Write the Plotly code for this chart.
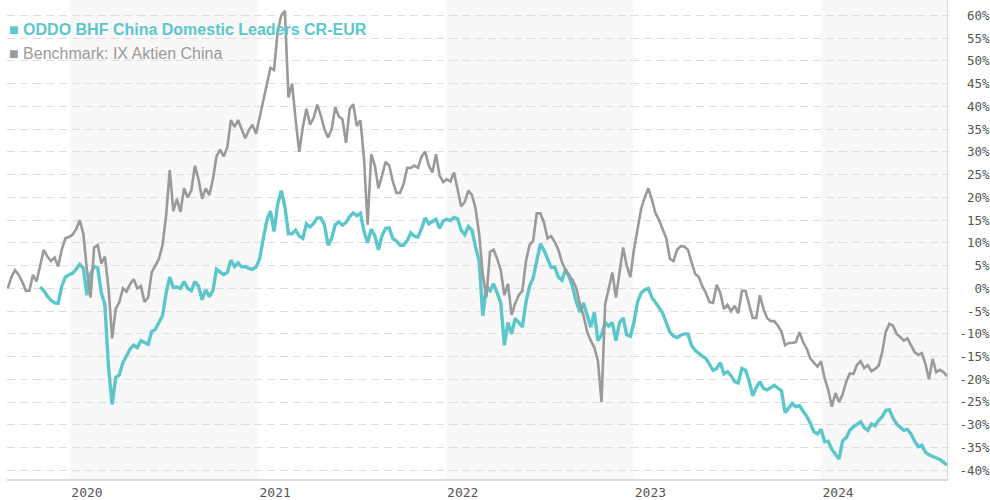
import pandas as pd
import plotly.graph_objects as go

# Weekly observations, cumulative performance in percent
dates = pd.date_range("2019-09-02", periods=262, freq="7D")

fund_name = "ODDO BHF China Domestic Leaders CR-EUR"
bench_name = "Benchmark: IX Aktien China"

benchmark = [
    0, 2.5, 4, 3, 1.5, -0.5, -0.5, 3, 1.5, 5,
    8.5, 7, 6, 6.8, 4.8, 8.5, 11, 11.3, 11.8, 13,
    15, 12, 4, -2, 9, 9.5, 5.5, 7, 0, -11,
    -4.5, -3, 0, -0.7, 1, 2, 0, 0.5, -3, -2,
    3.5, 5, 6.5, 9.5, 16, 26, 17, 19.7, 16.8, 22,
    20, 21.5, 27, 24, 19.7, 22, 20.5, 24, 29, 30.5,
    29, 31, 37, 35.5, 37, 35, 33, 34.8, 36, 34,
    37.5, 41.5, 45, 48.5, 48, 56.5, 60, 61, 42, 45,
    37, 30, 35.5, 39.5, 36, 37.5, 40.4, 38, 35, 33.2,
    35, 39.8, 37.8, 37.2, 32, 39.4, 40.5, 35.7, 37, 28.5,
    14, 29.5, 27, 22, 24.8, 27.8, 27, 23.5, 21, 21,
    23, 26.5, 26.5, 27, 26.5, 29, 30, 27, 25.5, 29.5,
    24.8, 23.4, 24, 23.5, 25.5, 22, 18, 19, 21.5, 20.5,
    17.5, 12, 3, -2, 8, 8.5, 6.5, 4, -1.5, 1,
    -5.8, -3.3, -1.5, -0.5, 6, 9.5, 10.5, 16.5, 16.5, 14.5,
    11, 11.5, 10.2, 8.5, 5.8, 4, 2.8, 1.8, 0, -3.5,
    -6, -9.5, -11.5, -13, -16, -25, -3.5, 0, 3.5, -2,
    4, 9, 5, 2.5, 8.5, 13.5, 17.5, 20, 22, 19.5,
    16.5, 15, 13, 11, 6.5, 6, 8.5, 9.3, 9.2, 8.5,
    5.8, 3.2, 2.5, 0.5, -1, -3, -3.2, 0.8, -1, -4.5,
    -3.6, -5, -3.8, -5.5, -0.5, -0.5, -3.5, -6.5, -6.5, -1.5,
    -4.5, -6.5, -7.2, -7.2, -8.2, -9.5, -12.5, -12, -12, -11.8,
    -9.6, -11.8, -13.2, -15.4, -16.3, -17.2, -16, -19.8, -22.3, -26,
    -23, -25, -23.3, -20.5, -18.7, -18.8, -16.8, -16, -17.5, -16.9,
    -18.2, -17.7, -17, -14, -9.5, -7.8, -8.2, -10, -10.7, -11.5,
    -11, -12.4, -14, -14.6, -14.2, -16.6, -20, -15.5, -18.4, -17.9,
    -18.4, -19.3,
]

fund = [
    None, None, None, None, None, None, None, None, None, 0.3,
    -0.5, -1.7, -2.6, -3.2, -3.3, 0.5, 2.5, 3, 3.3, 4.2,
    5.3, 4.5, -1.5, 3.2, 4.8, 4.5, -1, -3.6, -17.5, -25.5,
    -19.6, -19, -16.3, -14.8, -13.3, -12.5, -13, -11.5, -12, -12.3,
    -9.5, -9, -7.5, -6, -1, 2.5, 0.2, 0.3, 0, 1.5,
    0, -0.5, 1.5, 0.5, -2.5, -0.3, -1.8, -0.5, 4.2, 3.5,
    3, 3.5, 6.2, 4.8, 5.6, 4.7, 4.8, 4.4, 4.2, 4.7,
    6.5, 11, 15, 17, 12.5, 18.5, 21.5, 18, 12, 12,
    12.8, 11.5, 11, 14.2, 13.5, 14.3, 15.5, 15.5, 14, 9.5,
    11, 14, 14.6, 13.9, 14.5, 15.8, 16.6, 16, 16.5, 12.5,
    10, 13, 11.6, 8.5, 11.6, 13.2, 13.3, 11, 10.4, 9.5,
    9.5, 10.5, 12.2, 11.5, 11.3, 13.2, 15.5, 14.2, 14.8, 15.2,
    13.2, 14.8, 15.2, 14.9, 15.6, 15.3, 12.8, 11.8, 13.6, 12.8,
    9, 6, -6, 0.5, -0.5, 1, -1, -3.2, -12.5, -7.5,
    -10, -6.6, -7.5, -8.5, -3, 0.5, 2.3, 6, 9.8, 8.4,
    6.6, 4.6, 4.7, 2.5, 1.8, 4.2, 2.5, 0.2, -3, -5.2,
    -3.2, -5.6, -8.5, -5.3, -11.5, -10.2, -7.5, -8.3, -7.5, -11.5,
    -7.5, -6.5, -10.2, -10.5, -7.5, -3, -1, -0.3, 0, -2,
    -3, -4.2, -5.5, -7.5, -9.6, -10.5, -10.8, -10.3, -10, -10,
    -12.5, -13.6, -14.3, -14.9, -15.4, -16.8, -18, -17.6, -16.3, -18.8,
    -18.3, -19.2, -20.5, -20.8, -17.6, -18, -20.3, -23.6, -21.8, -20.5,
    -22, -22.3, -21.8, -21.3, -21.9, -22.5, -27.3, -26.3, -25.3, -26,
    -25.8, -27, -28.1, -29.6, -31.5, -32, -31, -33.7, -33.6, -35.4,
    -36.4, -37.5, -33.5, -32.8, -31.2, -30.4, -29.9, -29.3, -30.6, -31.2,
    -29.8, -30.2, -29, -28.2, -26.8, -26.7, -28.5, -29.8, -30.5, -31.2,
    -31, -32, -33.6, -34.8, -34.5, -36, -36.6, -36.9, -37.1, -37.6,
    -38.2, -38.9,
]

year_ticks = ["2020-01-01", "2021-01-01", "2022-01-01", "2023-01-01", "2024-01-01"]
year_labels = ["2020", "2021", "2022", "2023", "2024"]
shaded_years = [("2020-01-01", "2021-01-01"), ("2022-01-01", "2023-01-01"),
                ("2024-01-01", "2024-09-03")]

pct_ticks = list(range(-40, 61, 5))
pct_labels = [f"{v}%".rjust(4, "\u00a0") for v in pct_ticks]

TEAL = "#5cc6cd"
GREY = "#9a9a9a"

fig = go.Figure()
fig.add_trace(go.Scatter(x=dates, y=fund, mode="lines", name=fund_name,
                         line=dict(color=TEAL, width=3.4), hoverinfo="skip"))
fig.add_trace(go.Scatter(x=dates, y=benchmark, mode="lines", name=bench_name,
                         line=dict(color=GREY, width=2.6), hoverinfo="skip"))

for x0, x1 in shaded_years:
    fig.add_shape(type="rect", xref="x", yref="paper", x0=x0, x1=x1, y0=0, y1=1,
                  fillcolor="#f8f8f8", line=dict(width=0), layer="below")

fig.add_annotation(xref="paper", yref="paper", x=0.0, y=0.938, xanchor="left",
                   yanchor="middle", showarrow=False,
                   text=f"<b>\u25a0 {fund_name}</b>",
                   font=dict(family="Liberation Sans, Arial", size=16, color=TEAL))
fig.add_annotation(xref="paper", yref="paper", x=0.0, y=0.889, xanchor="left",
                   yanchor="middle", showarrow=False,
                   text=f"\u25a0 {bench_name}",
                   font=dict(family="Liberation Sans, Arial", size=16, color=GREY))

fig.update_layout(
    width=990, height=500,
    margin=dict(l=7, r=42, t=0, b=18),
    paper_bgcolor="white", plot_bgcolor="white",
    showlegend=False,
    xaxis=dict(
        range=["2019-08-31 12:00", "2024-09-02"],
        tickvals=year_ticks, ticktext=year_labels,
        ticklabelshift=17, ticks="",
        showgrid=False, zeroline=False,
        showline=True, linecolor="#d9d9d9", linewidth=2,
        tickfont=dict(family="DejaVu Sans Mono", size=13, color="#555555"),
    ),
    yaxis=dict(
        side="right", range=[-41.9, 63.4],
        tickvals=pct_ticks, ticktext=pct_labels, ticks="",
        showgrid=True, gridcolor="#dedede", gridwidth=1, griddash="8px,5px",
        zeroline=False,
        showline=True, linecolor="#d9d9d9", linewidth=1,
        ticklabelstandoff=9,
        tickfont=dict(family="DejaVu Sans Mono", size=12.5, color="#555555"),
    ),
)

fig.write_html("out.html")
